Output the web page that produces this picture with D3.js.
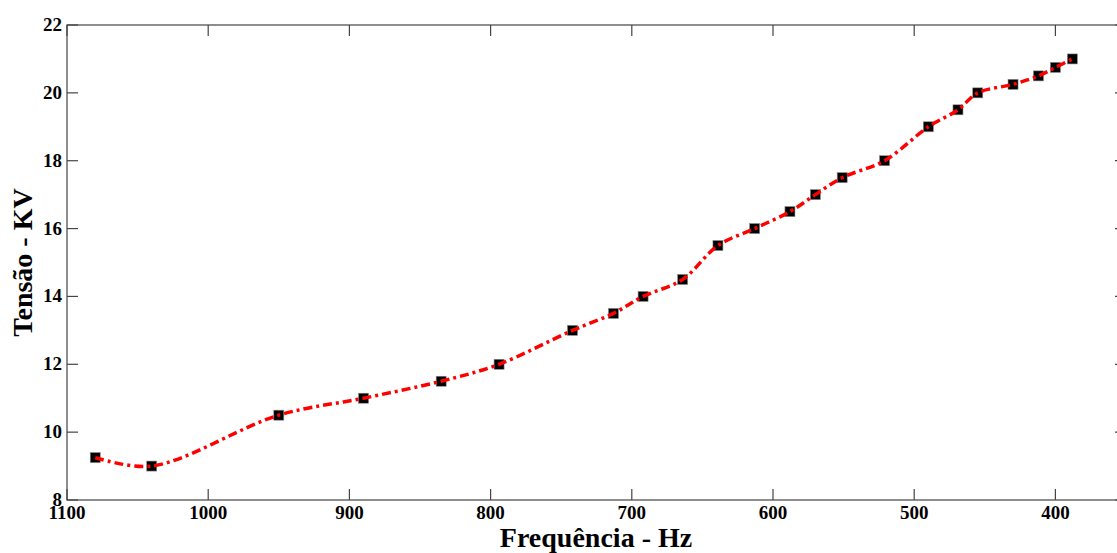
<!DOCTYPE html>
<html lang="en">
<head>
    <meta charset="UTF-8">
    <title>Tensão x Frequência</title>
    <script type="text/javascript" src="https://cdn.jsdelivr.net/npm/d3@7/dist/d3.min.js"></script>
    <style>
        body { margin: 0; background: #fff; overflow: hidden; }
        .tick-text {
            font-family: "Liberation Serif", "Times New Roman", serif;
            font-weight: bold;
            font-size: 19px;
        }
        .axis-label {
            font-family: "Liberation Serif", "Times New Roman", serif;
            font-weight: bold;
            font-size: 28px;
        }
    </style>
</head>
<body>
    <div id="container"></div>
    <script type="text/javascript">
        // measured points (Hz, kV)
        const frequency = [1080, 1040, 950, 890, 835, 794, 742, 713, 692, 664, 639, 613,
                           588, 570, 551, 521, 490, 469, 455, 430, 412, 400, 388];
        const voltage = [9.25, 9.0, 10.5, 11.0, 11.5, 12.0, 13.0, 13.5, 14.0, 14.5, 15.5, 16.0,
                         16.5, 17.0, 17.5, 18.0, 19.0, 19.5, 20.0, 20.25, 20.5, 20.75, 21.0];
        const xTicks = [1100, 1000, 900, 800, 700, 600, 500, 400];
        const yTicks = [8, 10, 12, 14, 16, 18, 20, 22];

        const w = 1117;
        const h = 553;
        const plotLeft = 67, plotRight = 1126, plotTop = 25, plotBottom = 500;
        const tickLen = 11;

        const dataset = frequency.map((f, i) => ({f: f, v: voltage[i]}));

        const svg = d3.select("#container")
            .append("svg")
            .attr("width", w)
            .attr("height", h);

        const xScale = d3.scaleLinear().domain([1100, 350]).range([plotLeft, plotRight]);
        const yScale = d3.scaleLinear().domain([8, 22]).range([plotBottom, plotTop]);

        // frame with inward ticks on all four sides
        const frame = svg.append("g").attr("stroke", "#444").attr("stroke-width", 1.2);
        frame.append("rect")
            .attr("x", plotLeft).attr("y", plotTop)
            .attr("width", plotRight - plotLeft).attr("height", plotBottom - plotTop)
            .attr("fill", "none");

        xTicks.forEach(t => {
            const x = xScale(t);
            frame.append("line").attr("x1", x).attr("x2", x).attr("y1", plotBottom).attr("y2", plotBottom - tickLen);
            frame.append("line").attr("x1", x).attr("x2", x).attr("y1", plotTop).attr("y2", plotTop + tickLen);
        });
        yTicks.forEach(t => {
            const y = yScale(t);
            frame.append("line").attr("x1", plotLeft).attr("x2", plotLeft + tickLen).attr("y1", y).attr("y2", y);
            frame.append("line").attr("x1", plotRight).attr("x2", plotRight - tickLen).attr("y1", y).attr("y2", y);
        });

        svg.append("g").selectAll("text")
            .data(xTicks)
            .enter()
            .append("text")
            .attr("x", d => xScale(d))
            .attr("y", plotBottom + 19)
            .style("text-anchor", "middle")
            .classed("tick-text", true)
            .text(d => d);

        svg.append("g").selectAll("text")
            .data(yTicks)
            .enter()
            .append("text")
            .attr("x", plotLeft - 5)
            .attr("y", d => yScale(d) + 6)
            .style("text-anchor", "end")
            .classed("tick-text", true)
            .text(d => d);

        // markers
        svg.append("g").selectAll("rect")
            .data(dataset)
            .enter()
            .append("rect")
            .attr("x", d => xScale(d.f) - 5)
            .attr("y", d => yScale(d.v) - 5)
            .attr("width", 10)
            .attr("height", 10)
            .attr("fill", "#000")
            .attr("stroke", "#888")
            .attr("stroke-width", 0.6);

        // smooth dash-dot curve on top
        const line = d3.line()
            .x(d => xScale(d.f))
            .y(d => yScale(d.v))
            .curve(d3.curveCatmullRom.alpha(0.5));

        svg.append("path")
            .datum(dataset)
            .attr("d", line)
            .attr("fill", "none")
            .attr("stroke", "#ff0000")
            .attr("stroke-width", 3.5)
            .attr("stroke-dasharray", "9,4,3,4");

        svg.append("text")
            .attr("x", 596)
            .attr("y", 547)
            .style("text-anchor", "middle")
            .classed("axis-label", true)
            .text("Frequência - Hz");

        svg.append("text")
            .attr("transform", "translate(32," + ((plotTop + plotBottom) / 2) + ") rotate(-90)")
            .style("text-anchor", "middle")
            .classed("axis-label", true)
            .text("Tensão - KV");
    </script>
</body>
</html>
